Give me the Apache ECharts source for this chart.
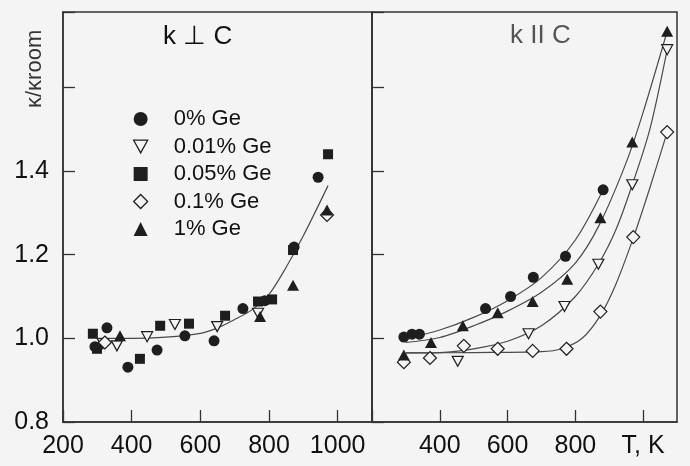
<!DOCTYPE html>
<html>
<head>
<meta charset="utf-8">
<script src="https://cdn.jsdelivr.net/npm/echarts@6/dist/echarts.min.js"></script>
<style>
	html, body { margin: 0; padding: 0; background: #f4f4f4; }
	#chart { width: 690px; height: 466px; }
</style>
</head>
<body>
<div id="chart"></div>
<script>
// values: [T in K, kappa / kappa_room]
const seriesNames = ['0% Ge', '0.01% Ge', '0.05% Ge', '0.1% Ge', '1% Ge'];

// k perpendicular to C (left panel)
const perpCircle = [[293, 0.98], [328, 1.025], [389, 0.931], [474, 0.972], [555, 1.006], [640, 0.994], [724, 1.071], [788, 1.09], [873, 1.218], [943, 1.385]];
const perpInvTri = [[316, 0.987], [357, 0.982], [445, 1.004], [526, 1.033], [649, 1.028], [768, 1.06]];
const perpSquare = [[287, 1.011], [299, 0.975], [424, 0.951], [483, 1.03], [567, 1.035], [672, 1.054], [768, 1.088], [809, 1.093], [870, 1.211], [972, 1.44]];
const perpDiamond = [[322, 0.99], [969, 1.295]];
const perpTriangle = [[366, 1.006], [774, 1.052], [870, 1.127], [969, 1.307]];
const perpFit = [[300, 1.0], [400, 1.0], [500, 1.003], [600, 1.012], [650, 1.025], [700, 1.045], [750, 1.068], [800, 1.105], [850, 1.17], [900, 1.245], [972, 1.365]];

// k parallel to C (right panel)
const parCircle = [[294, 1.003], [318, 1.01], [340, 1.01], [535, 1.071], [609, 1.10], [676, 1.146], [771, 1.196], [882, 1.355]];
const parInvTri = [[453, 0.945], [662, 1.011], [768, 1.076], [868, 1.177], [968, 1.367], [1071, 1.69]];
const parDiamond = [[294, 0.943], [371, 0.953], [471, 0.982], [571, 0.975], [674, 0.970], [774, 0.975], [874, 1.064], [971, 1.242], [1071, 1.493]];
const parTriangle = [[294, 0.96], [374, 0.99], [468, 1.03], [571, 1.061], [674, 1.088], [776, 1.141], [874, 1.288], [968, 1.469], [1071, 1.734]];
const parFitCircle = [[300, 1.0], [400, 1.02], [500, 1.05], [600, 1.09], [700, 1.145], [800, 1.235], [882, 1.355]];
const parFitTriangle = [[300, 0.99], [400, 1.002], [500, 1.03], [600, 1.065], [700, 1.11], [800, 1.18], [870, 1.27], [950, 1.42], [1000, 1.54], [1071, 1.734]];
const parFitInvTri = [[300, 0.965], [400, 0.966], [500, 0.975], [600, 0.993], [700, 1.03], [800, 1.1], [870, 1.18], [920, 1.26], [968, 1.367], [1020, 1.5], [1071, 1.69]];
const parFitDiamond = [[300, 0.965], [500, 0.966], [700, 0.968], [760, 0.975], [820, 1.0], [874, 1.055], [920, 1.13], [971, 1.24], [1020, 1.36], [1071, 1.493]];

const yTickLabels = ['0.8', '1.0', '1.2', '1.4'];

const BG = '#f4f4f4';
const INK = '#1e1e1e';
const INV_TRI = 'path://M0,0 L10,0 L5,9 Z';

const markers = {
	'0% Ge': { symbol: 'circle', size: 11, fill: INK },
	'0.01% Ge': { symbol: INV_TRI, size: [11, 10], fill: BG },
	'0.05% Ge': { symbol: 'rect', size: 10, fill: INK },
	'0.1% Ge': { symbol: 'diamond', size: 13, fill: BG },
	'1% Ge': { symbol: 'triangle', size: [12, 11], fill: INK }
};

function scatter(name, data, panel) {
	const m = markers[name];
	return {
		name: name,
		type: 'scatter',
		xAxisIndex: panel,
		yAxisIndex: panel,
		data: data,
		symbol: m.symbol,
		symbolSize: m.size,
		itemStyle: { color: m.fill, borderColor: INK, borderWidth: m.fill === BG ? 1.2 : 0, opacity: 1 },
		z: 3
	};
}

function fitLine(data, panel) {
	return {
		type: 'line',
		xAxisIndex: panel,
		yAxisIndex: panel,
		data: data,
		smooth: 0.3,
		symbol: 'none',
		lineStyle: { color: '#4a4a4a', width: 1.2 },
		silent: true,
		z: 2
	};
}

function xAxis(panel) {
	return {
		type: 'value',
		gridIndex: panel,
		min: 200,
		max: 1100,
		interval: 200,
		axisLine: { lineStyle: { color: '#333', width: 1.5 } },
		axisTick: { inside: true, length: 12, lineStyle: { color: '#333', width: 1.3 } },
		splitLine: { show: false },
		axisLabel: {
			color: '#111',
			fontSize: 25,
			fontFamily: 'Liberation Sans',
			margin: 12,
			formatter: function (v) {
				if (panel === 1) {
					if (v === 200) return '';
					if (v === 1000) return 'T, K';
				}
				return String(v);
			}
		}
	};
}

function yAxis(panel) {
	return {
		type: 'value',
		gridIndex: panel,
		min: 0.8,
		max: 1.78,
		interval: 0.2,
		axisLine: { lineStyle: { color: '#333', width: 1.5 } },
		axisTick: { inside: true, length: 12, lineStyle: { color: '#333', width: 1.3 } },
		splitLine: { show: false },
		axisLabel: {
			show: panel === 0,
			color: '#111',
			fontSize: 25,
			fontFamily: 'Liberation Sans',
			margin: 14,
			formatter: function (v) {
				const s = v.toFixed(1);
				return yTickLabels.includes(s) ? s : '';
			}
		}
	};
}

const chart = echarts.init(document.getElementById('chart'));

chart.setOption({
	backgroundColor: BG,
	animation: false,
	grid: [
		{ left: 63, top: 12, width: 309, height: 410, show: true, borderColor: '#333', borderWidth: 1.5 },
		{ left: 372, top: 12, width: 305, height: 410, show: true, borderColor: '#333', borderWidth: 1.5 }
	],
	xAxis: [xAxis(0), xAxis(1)],
	yAxis: [yAxis(0), yAxis(1)],
	legend: {
		data: seriesNames.map(function (n) {
			return { name: n, icon: markers[n].symbol, itemStyle: { color: markers[n].fill, borderColor: INK, borderWidth: markers[n].fill === BG ? 1.3 : 0 } };
		}),
		orient: 'vertical',
		left: 128,
		top: 103,
		itemWidth: 14,
		itemHeight: 14,
		itemGap: 5.5,
		selectedMode: false,
		textStyle: { color: '#111', fontSize: 22, lineHeight: 22, fontFamily: 'Liberation Sans', padding: [0, 0, 0, 21] }
	},
	graphic: [
		{ type: 'text', left: 163, top: 24, style: { text: 'k ⊥ C', fontSize: 26, fontFamily: 'Liberation Sans', fill: '#111' } },
		{ type: 'text', left: 510, top: 23, style: { text: 'k II C', fontSize: 26, fontFamily: 'Liberation Sans', fill: '#555' } },
		{ type: 'text', x: 24, y: 108, rotation: Math.PI / 2, style: { text: 'κ/κroom', fontSize: 22, fontFamily: 'Liberation Sans', fill: '#333' } }
	],
	series: [
		fitLine(perpFit, 0),
		scatter('0% Ge', perpCircle, 0),
		scatter('0.01% Ge', perpInvTri, 0),
		scatter('0.05% Ge', perpSquare, 0),
		scatter('0.1% Ge', perpDiamond, 0),
		scatter('1% Ge', perpTriangle, 0),
		fitLine(parFitCircle, 1),
		fitLine(parFitTriangle, 1),
		fitLine(parFitInvTri, 1),
		fitLine(parFitDiamond, 1),
		scatter('0% Ge', parCircle, 1),
		scatter('0.01% Ge', parInvTri, 1),
		scatter('0.1% Ge', parDiamond, 1),
		scatter('1% Ge', parTriangle, 1)
	]
});

window.addEventListener('resize', () => chart.resize());
</script>
</body>
</html>
